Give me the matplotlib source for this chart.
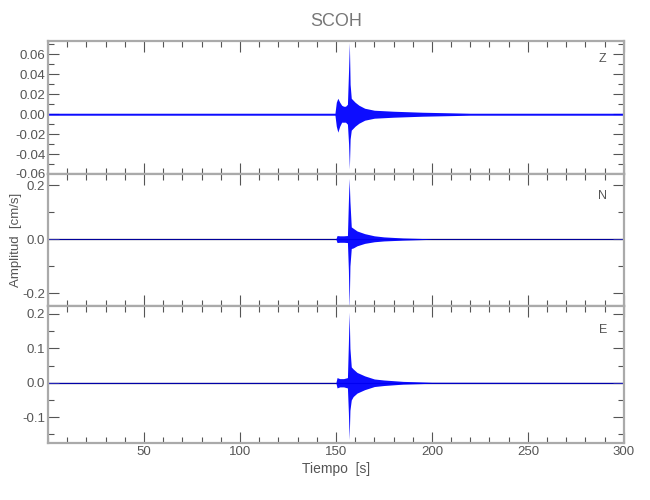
import matplotlib
matplotlib.use("Agg")
import matplotlib.pyplot as plt
from matplotlib.ticker import MultipleLocator, FormatStrFormatter

plt.rcParams["font.family"] = ["Liberation Sans", "DejaVu Sans"]

# ----------------------------
# Data (envelopes)
# ----------------------------
STATION = "SCOH"

z_t     = [0, 149.5, 150.2, 151, 152, 153, 154, 155, 156, 156.6, 157, 157.4, 158, 159, 160, 162, 165, 170, 180, 195, 220, 300]
z_upper = [.001, .001, .012, .016, .012, .009, .008, .008, .010, .045, .072, .030, .016, .014, .012, .009, .006, .004, .003, .002, .001, .001]
z_lower = [-.001, -.001, -.012, -.018, -.012, -.008, -.008, -.008, -.010, -.030, -.055, -.025, -.016, -.014, -.012, -.009, -.006, -.004, -.003, -.002, -.001, -.001]

n_t     = [0, 150, 150.6, 152, 154, 156, 156.5, 156.9, 157.3, 158, 159, 161, 165, 170, 175, 185, 200, 300]
n_upper = [.001, .001, .013, .012, .012, .013, .14, .225, .14, .045, .04, .03, .02, .012, .008, .004, .001, .001]
n_lower = [-.001, -.001, -.013, -.012, -.012, -.013, -.115, -.26, -.10, -.035, -.033, -.025, -.016, -.01, -.007, -.004, -.001, -.001]

e_t     = [0, 150, 150.6, 152, 154, 156, 156.5, 156.9, 157.3, 158, 159, 161, 165, 170, 175, 185, 200, 300]
e_upper = [.001, .001, .015, .012, .012, .015, .116, .205, .10, .046, .04, .03, .02, .011, .008, .004, .0015, .001]
e_lower = [-.001, -.001, -.015, -.012, -.012, -.015, -.087, -.165, -.08, -.05, -.04, -.03, -.02, -.011, -.008, -.004, -.0015, -.001]

channels = ["Z", "N", "E"]
ylims = [(-0.06, 0.0735), (-0.248, 0.241), (-0.175, 0.223)]
y_major = [0.02, 0.2, 0.1]
y_minor = [0.01, 0.1, 0.05]
y_fmt = ["%.2f", "%.1f", "%.1f"]
label_y = [0.055, 0.159, 0.154]

GREY = "#aaaaaa"
TXT = "#555555"
BLUE = "#0000ff"

fig = plt.figure(figsize=(6.5, 5.0), dpi=100)
boxes = [(0.0738, 0.652, 0.886, 0.266),
         (0.0738, 0.388, 0.886, 0.264),
         (0.0738, 0.114, 0.886, 0.274)]

traces = [(z_t, z_upper, z_lower), (n_t, n_upper, n_lower), (e_t, e_upper, e_lower)]

axes = []
for i, box in enumerate(boxes):
    ax = fig.add_axes(box)
    t, up, lo = traces[i]
    if i > 0:
        ax.axhline(0, color="#000033", lw=0.9, zorder=1)
    ax.fill_between(t, lo, up, color=BLUE, lw=0, alpha=0.95, zorder=2)
    ax.set_xlim(0, 300)
    ax.set_ylim(*ylims[i])
    ax.xaxis.set_major_locator(MultipleLocator(50))
    ax.xaxis.set_minor_locator(MultipleLocator(10))
    ax.yaxis.set_major_locator(MultipleLocator(y_major[i]))
    ax.yaxis.set_minor_locator(MultipleLocator(y_minor[i]))
    ax.yaxis.set_major_formatter(FormatStrFormatter(y_fmt[i]))
    ax.tick_params(which="both", direction="in", top=True, right=True,
                   color=TXT, labelcolor=TXT, labelsize=9.5, width=0.8, pad=2)
    ax.tick_params(which="major", length=8)
    ax.tick_params(which="minor", length=4)
    for sp in ax.spines.values():
        sp.set_color(GREY)
        sp.set_linewidth(1.6)
    ax.text(289, label_y[i], channels[i], color=TXT, fontsize=9, ha="center", va="center")
    if i < 2:
        ax.tick_params(labelbottom=False)
    axes.append(ax)

# no label at t = 0
axes[2].set_xticks([50, 100, 150, 200, 250, 300])
axes[2].set_xlabel("Tiempo  [s]", color=TXT, fontsize=10, labelpad=3)
axes[1].set_ylabel("Amplitud  [cm/s]", color=TXT, fontsize=9.5)
axes[1].yaxis.set_label_coords(-0.045, 0.5)
axes[0].set_title(STATION, color="#777777", fontsize=13, pad=11)

fig.savefig("out.png", dpi=100)
